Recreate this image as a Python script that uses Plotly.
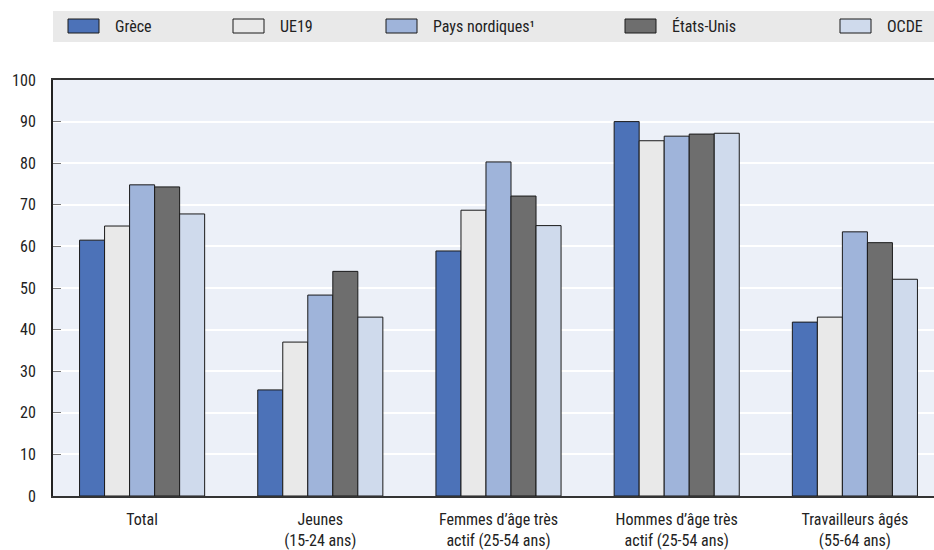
import plotly.graph_objects as go

categories = ["Total", "Jeunes<br>(15-24 ans)", "Femmes d’âge très<br>actif (25-54 ans)",
              "Hommes d’âge très<br>actif (25-54 ans)", "Travailleurs âgés<br>(55-64 ans)"]
series_names = ["Grèce", "UE19", "Pays nordiques¹", "États-Unis", "OCDE"]
grece = [61.5, 25.5, 58.9, 90.0, 41.8]
ue19 = [64.9, 37.0, 68.7, 85.4, 43.0]
nordiques = [74.8, 48.3, 80.3, 86.5, 63.5]
etats_unis = [74.3, 54.0, 72.1, 87.0, 60.9]
ocde = [67.8, 43.0, 65.0, 87.2, 52.1]
y_ticks = [0, 10, 20, 30, 40, 50, 60, 70, 80, 90, 100]

colors = ["#4c72b8", "#e9e9e9", "#9fb4da", "#6e6e6e", "#cfdaec"]
values = [grece, ue19, nordiques, etats_unis, ocde]
FONT = "Liberation Sans Narrow, Roboto Condensed, Arial Narrow, sans-serif"

# the reference plot area runs slightly past the right edge of the 934px view
W, H = 944, 550
L, R, T, B = 53, 0, 80, 54
plot_w, plot_h = W - L - R, H - T - B

def px_x(px):
    return (px - L) / plot_w

def px_y(py):
    return 1 + (T - py) / plot_h

fig = go.Figure()
for name, vals, col in zip(series_names, values, colors):
    fig.add_trace(go.Bar(x=categories, y=vals, name=name, marker_color=col,
                         marker_line=dict(color="#1a1a1a", width=1), showlegend=False))

# custom legend (band + swatches + labels)
shapes = [dict(type="rect", xref="paper", yref="paper", x0=0, x1=1.0, y0=px_y(42), y1=px_y(11),
               fillcolor="#e9e9e9", line=dict(width=0), layer="below")]
annotations = []
legend_x = [68, 233, 386, 625, 840]
for name, col, px in zip(series_names, colors, legend_x):
    shapes.append(dict(type="rect", xref="paper", yref="paper", x0=px_x(px), x1=px_x(px + 31),
                       y0=px_y(33), y1=px_y(19), fillcolor=col,
                       line=dict(color="#1a1a1a", width=1)))
    annotations.append(dict(xref="paper", yref="paper", x=px_x(px + 45), y=px_y(26.5),
                            text=name, showarrow=False, xanchor="left", yanchor="middle",
                            font=dict(size=16, color="#222", family=FONT)))

fig.update_layout(
    width=W, height=H,
    margin=dict(l=L, r=R, t=T, b=B),
    paper_bgcolor="white", plot_bgcolor="#ecf0f8",
    barmode="group", bargap=0.298, bargroupgap=0,
    font=dict(family=FONT, size=16, color="#222"),
    shapes=shapes, annotations=annotations,
    xaxis=dict(showline=True, linecolor="#333", linewidth=2, mirror=True, ticks="",
               tickfont=dict(size=16), showgrid=False, ticklabelstandoff=8),
    yaxis=dict(range=[0, 100], tickvals=y_ticks, showline=True, linecolor="#222", linewidth=2,
               ticks="inside", ticklen=8, tickcolor="#777", gridcolor="white", gridwidth=1.5,
               tickfont=dict(size=16), zeroline=False, ticklabelstandoff=12),
)
fig.write_html("out.html", config={"displayModeBar": False},
               post_script="document.body.style.margin='0';document.body.style.overflow='hidden';"
                           "document.documentElement.style.overflow='hidden';")
